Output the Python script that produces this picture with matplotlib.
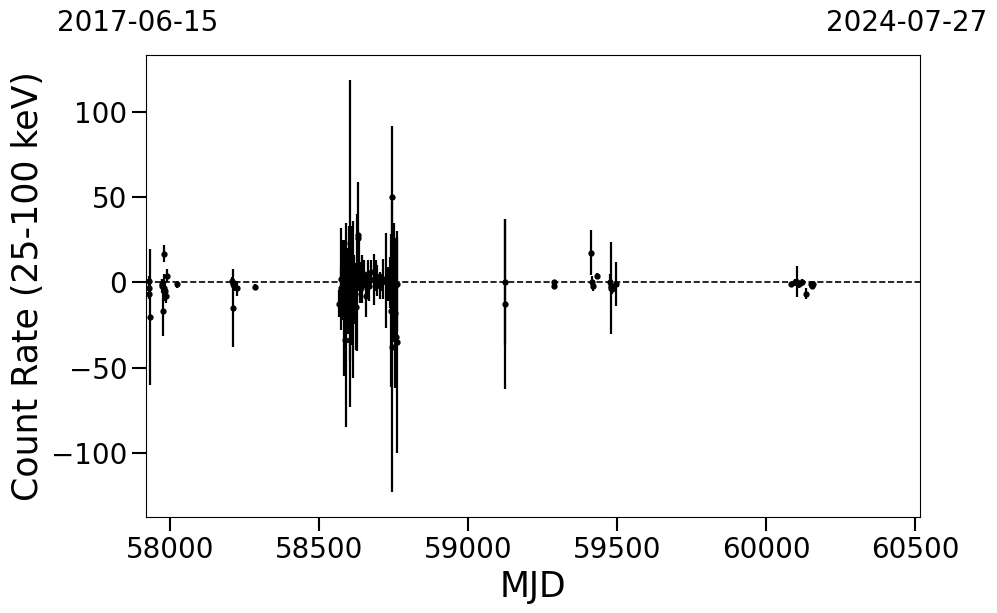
import numpy as np
import matplotlib
matplotlib.use("Agg")
import matplotlib.pyplot as plt

# MJD, count rate (25-100 keV), 1-sigma error
mjd = [
    57929, 57929, 57930, 57931,
    57972, 57974, 57976, 57978, 57980, 57983, 57986, 57990, 58023,
    58208, 58210, 58212, 58213, 58225, 58286,
    58568, 58572, 58575, 58578, 58580, 58583, 58586, 58588, 58591,
    58594, 58597, 58600, 58603, 58605, 58608, 58612, 58615, 58618,
    58621, 58624, 58627, 58630, 58632, 58634, 58637, 58640, 58645,
    58652, 58658, 58664, 58669, 58675, 58683, 58690, 58696, 58703,
    58710, 58716, 58723, 58730, 58737, 58741, 58744, 58746, 58748,
    58750, 58752, 58754, 58756, 58758, 58760, 58762,
    59123, 59124, 59287, 59288,
    59414, 59416, 59418, 59432,
    59476, 59478, 59480, 59482, 59496,
    60084, 60096, 60104, 60112, 60120, 60134, 60150, 60155, 60158,
]
rate = [
    1.0, -3.0, -7.0, -20.5,
    -1.0, -2.0, -16.5, -3.0, 17.0, -5.0, -8.0, 4.0, -1.0,
    1.0, -1.0, -15.0, -2.0, -3.5, -2.5,
    -12.5, -3.0, 2.0, -8.0, 5.0, -15.0, -2.0, -34.0, -25.0,
    0.0, -5.0, 3.0, -34.0, 23.0, -2.0, 8.0, -10.0, 1.0,
    -6.5, -14.5, 0.0, 26.0, 28.0, 10.0, 0.0, -3.0, 2.0,
    5.0, -8.0, 3.0, -2.0, 6.0, 2.0, 4.0, 1.0, -2.0,
    0.0, 2.0, 1.0, -1.0, 0.0, -16.5, -38.0, 50.0, -3.0,
    0.0, -16.5, -2.0, -18.0, -32.0, -35.0, -1.0,
    0.5, -12.5, 0.0, -2.0,
    17.6, 0.0, -2.0, 4.0,
    0.0, -3.5, -2.0, -4.0, -1.0,
    -1.0, 0.0, 0.5, -1.0, 0.0, -6.5, -1.0, -2.0, -1.0,
]
err = [
    3.0, 2.0, 3.0, 40.0,
    3.0, 4.0, 15.0, 8.0, 5.0, 6.0, 4.0, 4.0, 2.0,
    2.0, 2.0, 23.0, 3.0, 4.5, 1.5,
    8.0, 12.0, 30.0, 14.0, 20.0, 40.0, 22.0, 8.0, 60.0,
    10.0, 25.0, 30.0, 12.0, 96.0, 35.0, 20.0, 46.0, 15.0,
    18.0, 25.0, 40.0, 4.0, 31.0, 15.0, 12.0, 8.0, 14.0,
    8.0, 12.0, 10.0, 9.0, 7.0, 15.0, 9.0, 9.0, 8.0,
    5.0, 12.0, 28.0, 10.0, 15.0, 45.0, 85.0, 42.0, 30.0,
    35.0, 18.0, 25.0, 44.0, 30.0, 65.0, 28.0,
    37.0, 50.0, 1.5, 1.5,
    13.5, 4.0, 3.0, 1.5,
    5.0, 27.0, 4.0, 3.0, 13.0,
    1.5, 2.0, 9.0, 2.0, 2.0, 3.0, 2.0, 2.0, 2.0,
]

xlim = (57919, 60518)
ylim = (-138, 133.5)
date_left = "2017-06-15"
date_right = "2024-07-27"

fig = plt.figure(figsize=(9.97, 6.13), dpi=100)
ax = fig.add_axes([0.1464, 0.1561, 0.7768, 0.7537])

ax.errorbar(
    mjd, rate, yerr=err,
    fmt="o", color="black", ecolor="black",
    markersize=3.5, elinewidth=1.6, capsize=0,
)
ax.axhline(0, color="black", linestyle="--", linewidth=1.2)

ax.set_xlim(*xlim)
ax.set_ylim(*ylim)
ax.set_xticks([58000, 58500, 59000, 59500, 60000, 60500])
ax.set_yticks([-100, -50, 0, 50, 100])
ax.tick_params(axis="both", labelsize=20, length=10, width=1.5)

ax.set_xlabel("MJD", fontsize=25)
ax.set_ylabel("Count Rate (25-100 keV)", fontsize=25)

fig.text(0.057, 0.962, date_left, fontsize=20, ha="left", va="center")
fig.text(0.990, 0.962, date_right, fontsize=20, ha="right", va="center")

fig.savefig("out.png", dpi=100)
